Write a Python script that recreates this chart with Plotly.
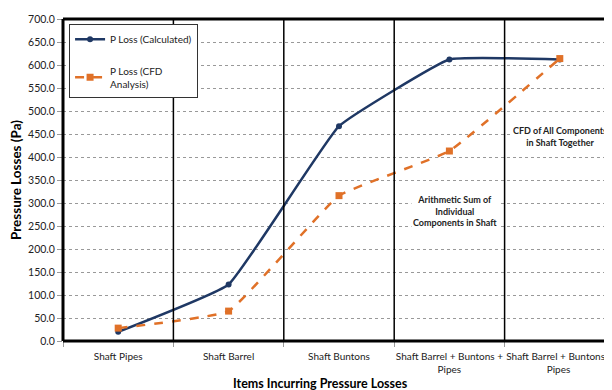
import plotly.graph_objects as go

categories = ["Shaft Pipes", "Shaft Barrel", "Shaft Buntons",
              "Shaft Barrel + Buntons +<br>Pipes", "Shaft Barrel + Buntons +<br>Pipes "]
p_calc = [20.0, 123.0, 467.0, 612.0, 612.0]
p_cfd = [28.0, 65.0, 316.0, 413.0, 614.0]
y_ticks = [0, 50, 100, 150, 200, 250, 300, 350, 400, 450, 500, 550, 600, 650, 700]
boundaries = [-0.5, 0.5, 1.5, 2.5, 3.5, 4.5]

FONT = "Lato, 'Open Sans', sans-serif"
NAVY = "#1F3864"
ORANGE = "#E07128"

xs = list(range(len(categories)))

fig = go.Figure()
fig.add_trace(go.Scatter(
    x=xs, y=p_calc, name="P Loss (Calculated)", mode="lines+markers", legendgroup="a",
    line=dict(color=NAVY, width=2.5, shape="spline", smoothing=0.3),
    marker=dict(symbol="circle", size=6, color=NAVY),
))
fig.add_trace(go.Scatter(
    x=xs, y=p_cfd, name="P Loss (CFD<br>Analysis)", mode="lines+markers", legendgroup="b",
    line=dict(color=ORANGE, width=2.5, dash="dash", shape="spline", smoothing=0.3),
    marker=dict(symbol="square", size=7, color=ORANGE),
))

# category dividers
for b in boundaries[1:-1]:
    fig.add_shape(type="line", xref="x", yref="y", x0=b, x1=b, y0=0, y1=700,
                  line=dict(color="black", width=1.5), layer="above")
# border left/top/bottom
fig.add_shape(type="line", xref="paper", yref="paper", x0=0, x1=0, y0=0, y1=1,
              line=dict(color="black", width=3))
fig.add_shape(type="line", xref="paper", yref="paper", x0=0, x1=1, y0=1, y1=1,
              line=dict(color="black", width=3))
fig.add_shape(type="line", xref="paper", yref="paper", x0=0, x1=1, y0=0, y1=0,
              line=dict(color="black", width=3))

fig.add_annotation(x=3.05, y=282, xref="x", yref="y", showarrow=False,
                   text="<b>Arithmetic Sum of<br>Individual<br>Components in Shaft</b>",
                   font=dict(family=FONT, size=9, color="#222"), bgcolor="white",
                   align="center")
fig.add_annotation(x=4.0, y=444, xref="x", yref="y", showarrow=False,
                   text="<b>CFD of All Components<br>in Shaft Together</b>",
                   font=dict(family=FONT, size=9, color="#222"), bgcolor="white",
                   align="center")
# x-axis title (offset like the original)
fig.add_annotation(x=0.467, y=0, xref="paper", yref="paper", yshift=-42,
                   showarrow=False, xanchor="center", yanchor="middle",
                   text="<b>Items Incurring Pressure Losses</b>",
                   font=dict(family=FONT, size=12.5, color="black"))

fig.update_layout(
    width=612, height=390,
    margin=dict(l=52, r=5, t=8, b=57),
    paper_bgcolor="white", plot_bgcolor="white",
    font=dict(family=FONT, size=10, color="#333"),
    showlegend=True,
    legend=dict(x=0.011, y=0.985, xanchor="left", yanchor="top",
                bordercolor="#333", borderwidth=1, bgcolor="white",
                font=dict(family=FONT, size=10, color="#222"),
                tracegroupgap=14, itemwidth=30),
    xaxis=dict(
        range=[-0.5, 4.5], tickmode="array", tickvals=xs, ticktext=categories,
        showgrid=False, zeroline=False, showline=False,
        ticks="outside", ticklen=6, tickcolor="rgba(0,0,0,0)",
        minor=dict(tickmode="array", tickvals=boundaries, ticks="outside",
                   ticklen=5, tickcolor="#999", showgrid=False),
        ticklabeloverflow="allow",
        tickfont=dict(family=FONT, size=10, color="#222"),
    ),
    yaxis=dict(
        range=[0, 700], tickvals=y_ticks, tickformat=".1f",
        showgrid=True, gridcolor="#999", griddash="dot", gridwidth=1,
        zeroline=False, showline=False,
        ticks="outside", ticklen=5, tickcolor="#999",
        tickfont=dict(family=FONT, size=10.5, color="#222"),
        title=dict(text="<b>Pressure Losses (Pa)</b>",
                   font=dict(family=FONT, size=13.5, color="black"), standoff=6),
    ),
)

fig.write_html("out.html")
